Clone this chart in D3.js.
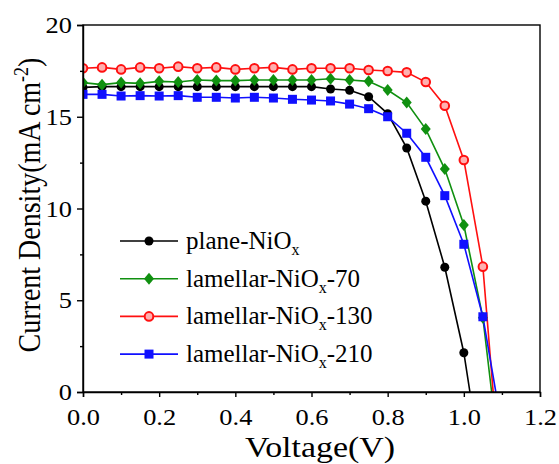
<!DOCTYPE html>
<html>
<head>
<script src="https://d3js.org/d3.v7.min.js"></script>
<style>
  body { margin: 0; background: #fff; }
  text { font-family: "Liberation Serif", "Times New Roman", serif; }
</style>
</head>
<body>
<svg id="chart" width="559" height="464"></svg>
<script>
// voltage steps (V)
var voltage = [0, 0.05, 0.1, 0.15, 0.2, 0.25, 0.3, 0.35, 0.4, 0.45, 0.5,
               0.55, 0.6, 0.65, 0.7, 0.75, 0.8, 0.85, 0.9, 0.95, 1.0, 1.05];

// current density (mA cm-2)
var plane   = [16.6, 16.64, 16.64, 16.64, 16.64, 16.64, 16.64, 16.64, 16.64, 16.64, 16.64,
               16.64, 16.64, 16.51, 16.44, 16.09, 15.17, 13.3, 10.4, 6.8, 2.14];
var lam70   = [16.86, 16.75, 16.86, 16.82, 16.93, 16.89, 17.0, 16.97, 16.97, 17.0, 17.0,
               17.0, 17.0, 17.07, 17.0, 16.93, 16.46, 15.77, 14.33, 12.15, 9.1, 4.05];
var lam130  = [17.64, 17.69, 17.58, 17.69, 17.64, 17.73, 17.64, 17.69, 17.58, 17.64, 17.69,
               17.58, 17.64, 17.64, 17.64, 17.55, 17.49, 17.42, 16.89, 15.6, 12.64, 6.83];
var lam210  = [16.22, 16.22, 16.13, 16.15, 16.13, 16.15, 16.06, 16.06, 16.02, 16.06, 16.02,
               15.95, 15.91, 15.86, 15.69, 15.44, 15.0, 14.1, 12.79, 10.7, 8.05, 4.1];
// open-circuit voltage where each curve reaches zero
var voc = [1.016, 1.073, 1.077, 1.084];

var names  = ["plane-NiO", "lamellar-NiO", "lamellar-NiO", "lamellar-NiO"];
var suffix = ["", "-70", "-130", "-210"];
var colors = ["#000000", "#109010", "#ff1010", "#1010ff"];
var shapes = ["circle", "diamond", "ring", "square"];

var xTicks = [0, 0.2, 0.4, 0.6, 0.8, 1.0, 1.2];
var yTicks = [0, 5, 10, 15, 20];

var svg = d3.select("#chart");
var mLeft = 83, mRight = 540, mTop = 25, mBottom = 392;

var x = d3.scaleLinear().domain([0, 1.2]).range([mLeft, mRight]);
var y = d3.scaleLinear().domain([0, 20]).range([mBottom, mTop]);

var series = [plane, lam70, lam130, lam210].map(function(vals, i) {
  var pts = vals.map(function(v, j) { return { v: voltage[j], j: v }; });
  return { pts: pts, end: { v: voc[i], j: 0 }, color: colors[i], shape: shapes[i] };
});

svg.append("clipPath").attr("id", "plotClip")
  .append("rect").attr("x", mLeft).attr("y", mTop)
  .attr("width", mRight - mLeft).attr("height", mBottom - mTop);

var line = d3.line().x(d => x(d.v)).y(d => y(d.j));

var plot = svg.append("g").attr("clip-path", "url(#plotClip)");

function drawMarker(g, shape, color, cx, cy) {
  if (shape == "circle") {
    g.append("circle").attr("cx", cx).attr("cy", cy).attr("r", 4.5).attr("fill", color);
  } else if (shape == "ring") {
    g.append("circle").attr("cx", cx).attr("cy", cy).attr("r", 4.3)
      .attr("fill", "#ffb0b0").attr("stroke", color).attr("stroke-width", 2);
  } else if (shape == "diamond") {
    g.append("path").attr("transform", "translate(" + cx + "," + cy + ")")
      .attr("d", "M0,-6L5,0L0,6L-5,0Z").attr("fill", color);
  } else {
    g.append("rect").attr("x", cx - 4.5).attr("y", cy - 4.5)
      .attr("width", 9).attr("height", 9).attr("fill", color);
  }
}

series.forEach(function(s) {
  plot.append("path")
    .attr("d", line(s.pts.concat([s.end])))
    .attr("fill", "none")
    .attr("stroke", s.color)
    .attr("stroke-width", 1.6);
});
series.forEach(function(s) {
  var g = plot.append("g");
  s.pts.forEach(function(p) { drawMarker(g, s.shape, s.color, x(p.v), y(p.j)); });
});

// frame
svg.append("rect").attr("x", mLeft).attr("y", mTop)
  .attr("width", mRight - mLeft).attr("height", mBottom - mTop)
  .attr("fill", "none").attr("stroke", "#000").attr("stroke-width", 1.4);

// axes
svg.append("g").attr("transform", "translate(0," + mBottom + ")")
  .call(d3.axisBottom(x).tickValues(xTicks).tickFormat(d3.format(".1f")).tickSize(5).tickPadding(11));
svg.append("g").attr("transform", "translate(0," + mBottom + ")")
  .call(d3.axisBottom(x).tickValues(d3.range(0.1, 1.2, 0.2)).tickFormat("").tickSize(3))
  .select(".domain").remove();

svg.append("g").attr("transform", "translate(" + mLeft + ",0)")
  .call(d3.axisLeft(y).tickValues(yTicks).tickSize(6).tickPadding(4));
svg.append("g").attr("transform", "translate(" + mLeft + ",0)")
  .call(d3.axisLeft(y).tickValues([2.5, 7.5, 12.5, 17.5]).tickFormat("").tickSize(3))
  .select(".domain").remove();

svg.selectAll(".tick text").attr("font-size", 24).attr("fill", "#000")
  .attr("transform", "scale(1.1,1)")
  .style("font-family", "Liberation Serif, serif");
svg.selectAll(".tick line").attr("stroke-width", 1.4);
svg.selectAll(".domain").attr("stroke-width", 1.4);

// axis titles
svg.append("text").attr("transform", "translate(320,457) scale(1.13,1)")
  .attr("text-anchor", "middle").attr("font-size", 30).text("Voltage(V)");

var yt = svg.append("text")
  .attr("transform", "translate(40,205) rotate(-90) scale(1,1.13)")
  .attr("text-anchor", "middle").attr("font-size", 28);
yt.append("tspan").text("Current Density(mA cm");
yt.append("tspan").attr("font-size", 18).attr("dy", -11).text("-2");
yt.append("tspan").attr("dy", 11).text(")");

// legend
var legend = svg.append("g");
series.forEach(function(s, i) {
  var ly = 241 + i * 37.7;
  legend.append("line").attr("x1", 120).attr("x2", 178).attr("y1", ly).attr("y2", ly)
    .attr("stroke", s.color).attr("stroke-width", 1.6);
  drawMarker(legend, s.shape, s.color, 149, ly);
  var t = legend.append("text").attr("x", 186).attr("y", ly + 8).attr("font-size", 25);
  t.append("tspan").text(names[i]);
  t.append("tspan").attr("font-size", 16).attr("dy", 6).text("x");
  t.append("tspan").attr("dy", -6).text(suffix[i]);
});
</script>
</body>
</html>
